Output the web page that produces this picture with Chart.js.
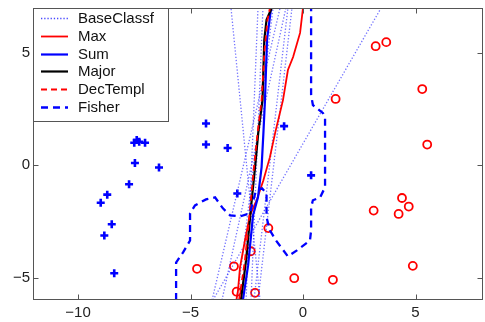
<!DOCTYPE html>
<html><head><meta charset="utf-8">
<script src="https://cdn.jsdelivr.net/npm/chart.js@4"></script>
<style>html,body{margin:0;padding:0;background:#fff;overflow:hidden}#wrap{width:485px;height:322px;overflow:hidden}canvas{display:block}</style>
</head><body><div id="wrap"><canvas id="c" width="485" height="322"></canvas></div>
<script>
const xTicks = [-10, -5, 0, 5];
const yTicks = [-5, 0, 5];
const legendLabels = ['BaseClassf', 'Max', 'Sum', 'Major', 'DecTempl', 'Fisher'];

const plusX = [-7.50, -7.39, -7.28, -7.02, -7.47, -6.40, -7.73, -8.70, -8.99, -8.50, -8.83, -8.39, -4.31, -4.31, -3.35, -2.92, -0.84, 0.36];
const plusY = [1.00, 1.12, 1.04, 1.00, 0.10, -0.10, -0.85, -1.31, -1.67, -2.63, -3.13, -4.81, 1.86, 0.92, 0.77, -1.26, 1.74, -0.45];

const circX = [3.23, 3.70, 5.30, 1.45, 5.52, 4.40, 4.70, 3.14, 4.25, 4.88, -0.39, 1.33, -1.54, -2.32, -3.07, -4.71, -2.95, -2.13];
const circY = [5.30, 5.48, 3.39, 2.95, 0.92, -1.46, -1.84, -2.02, -2.17, -4.48, -5.03, -5.10, -2.80, -3.83, -4.50, -4.61, -5.63, -5.68];

// base classifier boundaries: x at top (y=7) and at bottom (y=-6)
const baseTopX = [-3.20, -2.00, -1.78, -1.33, -1.02, -0.76, 3.47, -0.49, -0.67];
const baseBottomX = [-1.91, -2.53, -2.31, -2.93, -4.04, -3.60, -4.00, -2.00, -2.18];
const baseTopY = 7, baseBottomY = -6;

const maxX = [-2.96, -2.89, -2.80, -2.58, -2.36, -2.06, -1.76, -1.47, -1.24, -0.89, -0.67, -0.44, -0.13, 0.00];
const maxY = [-6.0, -5.58, -4.55, -3.35, -2.23, -1.56, -0.67, 0.36, 1.43, 2.90, 4.24, 4.82, 5.89, 7.0];

const sumX = [-2.67, -2.44, -2.22, -2.00, -1.84, -1.76, -1.69, -1.60, -1.42];
const sumY = [-6.0, -4.46, -2.23, -1.43, -0.09, 1.43, 2.90, 5.58, 7.0];

const majorX = [-2.76, -2.53, -2.28, -2.13, -1.99, -1.80, -1.72, -1.62, -1.39];
const majorY = [-6.0, -4.24, -1.56, -0.09, 1.43, 2.90, 5.58, 6.47, 7.0];

const decX = [-2.84, -2.58, -2.36, -2.18, -2.02, -1.84, -1.71, -1.58, -1.47];
const decY = [-6.0, -4.24, -2.01, -0.09, 1.43, 2.90, 5.13, 6.47, 7.0];

const fisherX = [-5.64, -5.64, -5.33, -5.02, -5.02, -4.80, -4.31, -3.91, -3.56, -3.24, -2.80, -2.36, -2.09, -1.82, -1.62, -1.62, -1.47, -1.20, -0.93, -0.67, -0.27, 0.31, 0.36, 0.36, 0.44, 0.76, 0.98, 0.98, 0.89, 0.44, 0.36, 0.36];
const fisherY = [-6.0, -4.33, -3.88, -3.35, -2.14, -1.79, -1.52, -1.43, -1.92, -2.23, -2.28, -2.14, -1.12, -1.03, -1.25, -2.32, -2.90, -3.35, -3.71, -4.06, -3.79, -3.35, -2.90, -1.88, -1.56, -1.43, -0.98, 2.10, 2.32, 2.68, 3.13, 7.0];

const zip = (xs, ys) => xs.map((v, i) => ({x: v, y: ys[i]}));
const FONT = '"Liberation Sans", Arial, Helvetica, sans-serif';
const BLUE = '#0000ff', RED = '#ff0000', DOT = 'rgba(60,60,255,0.72)';

const styles = [
  {color: DOT, width: 1.3, dash: [1.3, 1.9]},
  {color: RED, width: 1.8, dash: []},
  {color: BLUE, width: 2.2, dash: []},
  {color: '#000', width: 2.2, dash: []},
  {color: RED, width: 1.8, dash: [6, 4]},
  {color: BLUE, width: 2.3, dash: [7, 5]}
];

const lineDs = (label, data, st, order) => ({
  label, data, showLine: true, fill: false, tension: 0,
  borderColor: st.color, borderWidth: st.width, borderDash: st.dash,
  pointRadius: 0, pointHoverRadius: 0, order
});

const datasets = [];
datasets.push({label: 'plus', data: zip(plusX, plusY), pointStyle: 'cross', pointRadius: 4,
  borderColor: BLUE, backgroundColor: BLUE, pointBorderWidth: 2.6, showLine: false, order: 20});
datasets.push({label: 'circ', data: zip(circX, circY), pointStyle: 'circle', pointRadius: 4,
  borderColor: RED, backgroundColor: 'rgba(0,0,0,0)', pointBorderWidth: 1.8, showLine: false, order: 20});
baseTopX.forEach((tx, i) => {
  datasets.push(lineDs(legendLabels[0], [{x: baseBottomX[i], y: baseBottomY}, {x: tx, y: baseTopY}], styles[0], 15));
});
datasets.push(lineDs(legendLabels[1], zip(maxX, maxY), styles[1], 6));
datasets.push(lineDs(legendLabels[2], zip(sumX, sumY), styles[2], 5));
datasets.push(lineDs(legendLabels[3], zip(majorX, majorY), styles[3], 4));
datasets.push(lineDs(legendLabels[4], zip(decX, decY), styles[4], 3));
datasets.push(lineDs(legendLabels[5], zip(fisherX, fisherY), styles[5], 2));

const fmt = v => (v < 0 ? '\u2212' + Math.abs(v) : String(v));
const noPad = s => { s.paddingTop = 0; s.paddingBottom = 0; s.paddingLeft = 0; s.paddingRight = 0; };

const boxPlugin = {
  id: 'boxPlugin',
  afterDraw(chart) {
    const {ctx, chartArea: a, scales: {x, y}} = chart;
    ctx.save();
    ctx.strokeStyle = '#555';
    ctx.lineWidth = 1;
    ctx.setLineDash([]);
    const L = Math.round(a.left) + 0.5, R = Math.round(a.right) - 0.5;
    const T = Math.round(a.top) + 0.5, B = Math.round(a.bottom) - 0.5;
    ctx.strokeRect(L, T, R - L, B - T);
    ctx.beginPath();
    xTicks.forEach(v => {
      const p = Math.round(x.getPixelForValue(v)) + 0.5;
      ctx.moveTo(p, B); ctx.lineTo(p, B - 5);
      ctx.moveTo(p, T); ctx.lineTo(p, T + 5);
    });
    yTicks.forEach(v => {
      const p = Math.round(y.getPixelForValue(v)) + 0.5;
      ctx.moveTo(L, p); ctx.lineTo(L + 5, p);
      ctx.moveTo(R, p); ctx.lineTo(R - 5, p);
    });
    ctx.stroke();

    // legend
    const lx = L, ly = T, lw = 135, lh = 113;
    ctx.fillStyle = '#fff';
    ctx.fillRect(lx, ly, lw, lh);
    ctx.strokeRect(lx, ly, lw, lh);
    ctx.font = '15px ' + FONT;
    ctx.textBaseline = 'middle';
    ctx.textAlign = 'left';
    legendLabels.forEach((lab, i) => {
      const cy = Math.round(a.top + 10 + i * 17.8) + 0.5;
      const st = styles[i];
      ctx.beginPath();
      ctx.strokeStyle = i === 0 ? 'rgba(40,40,255,0.85)' : st.color;
      ctx.lineWidth = i === 0 ? 1.6 : st.width;
      ctx.setLineDash(st.dash);
      ctx.moveTo(41, cy); ctx.lineTo(68, cy);
      ctx.stroke();
      ctx.setLineDash([]);
      ctx.fillStyle = '#111';
      ctx.fillText(lab, 78, cy + 0.5);
    });
    ctx.restore();
  }
};

new Chart(document.getElementById('c'), {
  type: 'scatter',
  data: {datasets},
  options: {
    responsive: false, animation: false, devicePixelRatio: 1,
    layout: {autoPadding: false, padding: {top: 8, right: 2, left: 0, bottom: 0}},
    plugins: {legend: {display: false}, tooltip: {enabled: false}},
    scales: {
      x: {
        type: 'linear', min: -12, max: 8,
        grid: {display: false, drawTicks: false}, border: {display: false},
        afterBuildTicks: s => { s.ticks = xTicks.map(v => ({value: v})); },
        afterFit: s => { s.height = 22; noPad(s); },
        ticks: {font: {family: FONT, size: 15}, color: '#222', padding: 4, maxRotation: 0, autoSkip: false, callback: v => fmt(v)}
      },
      y: {
        type: 'linear', min: -6, max: 7,
        grid: {display: false, drawTicks: false}, border: {display: false},
        afterBuildTicks: s => { s.ticks = yTicks.map(v => ({value: v})); },
        afterFit: s => { s.width = 33; noPad(s); },
        ticks: {font: {family: FONT, size: 15}, color: '#222', padding: 3, autoSkip: false, callback: v => fmt(v)}
      }
    }
  },
  plugins: [boxPlugin]
});
</script>
</body></html>
